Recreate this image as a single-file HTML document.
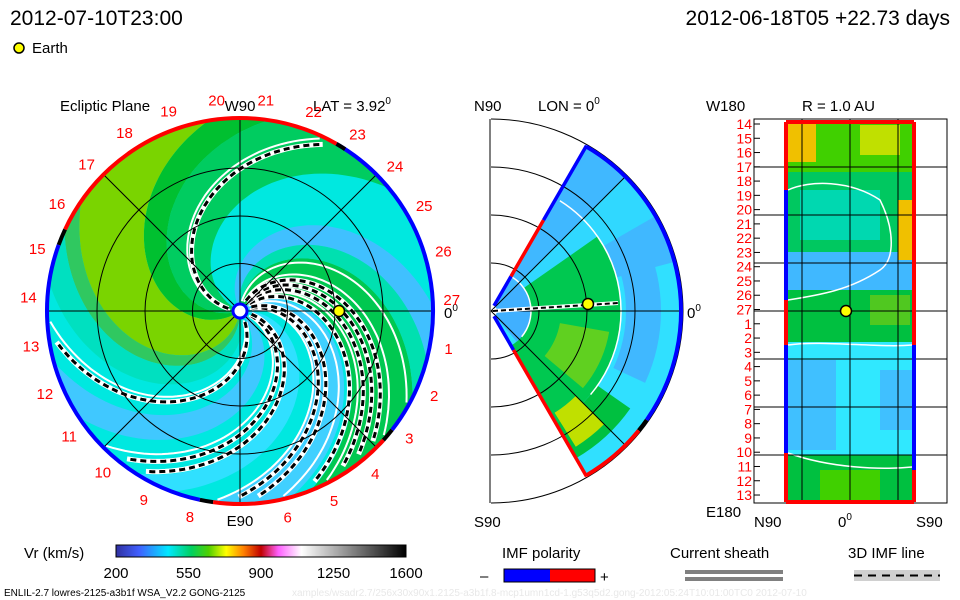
<!DOCTYPE html>
<html><head><meta charset="utf-8"><style>
html,body{margin:0;padding:0;background:#fff;}
svg{display:block;font-family:"Liberation Sans",sans-serif;}
</style></head><body>
<svg id="s" width="960" height="600" viewBox="0 0 960 600">
<defs>
 <clipPath id="cc"><circle cx="240" cy="311" r="192"/></clipPath>
 <linearGradient id="cbar" x1="0" x2="1" y1="0" y2="0">
  <stop offset="0" stop-color="#3030a0"/><stop offset="0.08" stop-color="#4060ff"/>
  <stop offset="0.18" stop-color="#00e8ff"/><stop offset="0.26" stop-color="#00d060"/>
  <stop offset="0.32" stop-color="#50d000"/><stop offset="0.38" stop-color="#ffff00"/>
  <stop offset="0.44" stop-color="#ff8000"/><stop offset="0.5" stop-color="#c00000"/>
  <stop offset="0.56" stop-color="#ff60ff"/><stop offset="0.64" stop-color="#ffffff"/>
  <stop offset="1" stop-color="#000000"/>
 </linearGradient>
</defs>
<text x="10" y="25" font-size="21">2012-07-10T23:00</text>
<text x="950" y="25" font-size="21" text-anchor="end">2012-06-18T05 +22.73 days</text>
<circle cx="19" cy="48" r="5" fill="#ff0" stroke="#000" stroke-width="1.5"/>
<text x="32" y="53" font-size="15">Earth</text>

<text x="60" y="111" font-size="15">Ecliptic Plane</text>
<text x="313" y="111" font-size="15">LAT = 3.92<tspan dy="-7" font-size="10">0</tspan></text>
<text x="240" y="111" font-size="15" text-anchor="middle">W90</text>
<text x="240" y="526" font-size="15" text-anchor="middle">E90</text>
<text x="444" y="318" font-size="15">0<tspan dy="-7" font-size="10">0</tspan></text>

<g id="ecl"></g>
<g id="mer"></g>
<g id="rad"></g>

<text x="474" y="111" font-size="15">N90</text>
<text x="538" y="111" font-size="15">LON = 0<tspan dy="-7" font-size="10">0</tspan></text>
<text x="474" y="527" font-size="15">S90</text>
<text x="687" y="318" font-size="15">0<tspan dy="-7" font-size="10">0</tspan></text>

<text x="706" y="111" font-size="15">W180</text>
<text x="802" y="111" font-size="15">R = 1.0 AU</text>
<text x="706" y="517" font-size="15">E180</text>
<text x="754" y="527" font-size="15">N90</text>
<text x="838" y="527" font-size="15">0<tspan dy="-7" font-size="10">0</tspan></text>
<text x="916" y="527" font-size="15">S90</text>

<!-- legend -->
<text x="24" y="558" font-size="15">Vr (km/s)</text>
<rect x="116" y="545" width="290" height="12" fill="url(#cbar)" stroke="#000" stroke-width="1"/>
<g font-size="15" text-anchor="middle" id="cbt"></g>
<text x="502" y="558" font-size="15">IMF polarity</text>
<text x="480" y="581" font-size="15">–</text>
<rect x="504" y="569" width="46" height="13" fill="#00f"/>
<rect x="550" y="569" width="45" height="13" fill="#f00"/>
<rect x="504" y="569" width="91" height="13" fill="none" stroke="#000"/>
<text x="600" y="582" font-size="15">+</text>
<text x="670" y="558" font-size="15">Current sheath</text>
<rect x="685" y="570" width="98" height="4" fill="#808080"/>
<rect x="685" y="577" width="98" height="4" fill="#808080"/>
<text x="848" y="558" font-size="15">3D IMF line</text>
<rect x="854" y="570" width="86" height="11" fill="#d0d0d0"/>
<line x1="854" y1="575.5" x2="940" y2="575.5" stroke="#000" stroke-width="2" stroke-dasharray="8,6"/>
<text x="4" y="596" font-size="10">ENLIL-2.7 lowres-2125-a3b1f WSA_V2.2 GONG-2125</text>
<text x="292" y="596" font-size="10" fill="#e8e8e8">xamples/wsadr2.7/256x30x90x1.2125-a3b1f.8-mcp1umn1cd-1.g53q5d2.gong-2012:05:24T10:01:00TC0    2012-07-10</text>
</svg>
<script>
// ---- data arrays ----
var cbTicks=["200","550","900","1250","1600"];
var bandOuter=[[40,82],[82,100],[100,146],[146,156],[156,172],[196,214],[238,250],[262,286],[292,334],[334,346],[346,362]];
var bandColor=["#00cc60","#00c030","#7ad400","#30c860","#00e0c0","#40c8ff","#30e0ff","#40d0ff","#00c850","#00e0b0","#40c0ff"];
var dashedOuter=[60,186,229,236,266,272,290,300,306,312];
var whiteOuter=[64,182,224,262,282,296,318,330];
var carLabels=["27","1","2","3","4","5","6","7","8","9","10","11","12","13","14","15","16","17","18","19","20","21","22","23","24","25","26"];
var rimSegs=[[60,155,"#f00"],[155,160,"#000"],[160,258,"#00f"],[258,262,"#000"],[262,318,"#f00"],[318,322,"#000"],[322,420,"#00f"],[57,60,"#000"]];
var radRows=["14","15","16","17","18","19","20","21","22","23","24","25","26","27","1","2","3","4","5","6","7","8","9","10","11","12","13"];

var NS="http://www.w3.org/2000/svg";
function mk(p,t,a){var e=document.createElementNS(NS,t);for(var k in a)e.setAttribute(k,a[k]);p.appendChild(e);return e;}
var CX=240,CY=311,R=192,K=0.6;
function sp(r,po){var ph=(po+K*(R-r))*Math.PI/180;return [CX+r*Math.cos(ph),CY-r*Math.sin(ph)];}
function spPath(po,r0,r1){var d="";for(var r=r0;r<=r1;r+=3){var p=sp(r,po);d+=(d?"L":"M")+p[0].toFixed(1)+" "+p[1].toFixed(1);}return d;}

var tg=document.getElementById("cbt");
cbTicks.forEach(function(t,i){var e=mk(tg,"text",{x:116+i*72.5,y:578});e.textContent=t;

});

var ecl=document.getElementById("ecl");
var cg=mk(ecl,"g",{"clip-path":"url(#cc)"});
var bg=mk(cg,"circle",{cx:CX,cy:CY,r:R,fill:"#00e8e0"});


bandOuter.forEach(function(b,i){
 var d="";for(var r=6;r<=R+40;r+=3){var p=sp(r,b[0]);d+=(d?"L":"M")+p[0].toFixed(1)+" "+p[1].toFixed(1);}
 for(var r=R+40;r>=6;r-=3){var p=sp(r,b[1]);d+="L"+p[0].toFixed(1)+" "+p[1].toFixed(1);}
 var e=mk(cg,"path",{d:d+"Z",fill:bandColor[i]});
 
 
});
whiteOuter.forEach(function(a){var e=mk(cg,"path",{d:spPath(a,10,R),fill:"none",stroke:"#fff","stroke-width":2});
 
 });
[47.5,95,143].forEach(function(r){var e=mk(ecl,"circle",{cx:CX,cy:CY,r:r,fill:"none",stroke:"#000","stroke-width":1});
 
 });
[0,45,90,135].forEach(function(a){var c=Math.cos(a*Math.PI/180)*R,s=Math.sin(a*Math.PI/180)*R;
 var e=mk(ecl,"line",{x1:CX-c,y1:CY+s,x2:CX+c,y2:CY-s,stroke:"#000","stroke-width":1});
 
 });
dashedOuter.forEach(function(a){var d=spPath(a,12,R-4);
 var w=mk(cg,"path",{d:d,fill:"none",stroke:"#fff","stroke-width":5});
 
 
 var b=mk(cg,"path",{d:d,fill:"none",stroke:"#000","stroke-width":3,"stroke-dasharray":"6,4"});
 
 });
rimSegs.forEach(function(s){var a0=s[0]*Math.PI/180,a1=s[1]*Math.PI/180,rr=R+1;
 var d="M"+(CX+rr*Math.cos(a0))+" "+(CY-rr*Math.sin(a0))+"A"+rr+" "+rr+" 0 "+((s[1]-s[0])>180?1:0)+" 0 "+(CX+rr*Math.cos(a1))+" "+(CY-rr*Math.sin(a1));
 var e=mk(ecl,"path",{d:d,fill:"none",stroke:s[2],"stroke-width":4});
 
 });
carLabels.forEach(function(t,i){ if(t==="7")return; var a=(3-13.333*i)*Math.PI/180;
 var e=mk(ecl,"text",{x:CX+212*Math.cos(a),y:CY-212*Math.sin(a)+5,"font-size":15,fill:"#f00","text-anchor":"middle"});e.textContent=t;
 
 });
var sun=mk(ecl,"circle",{cx:CX,cy:CY,r:7,fill:"#fff",stroke:"#00f","stroke-width":3});


var ea=mk(ecl,"circle",{cx:339,cy:311,r:5.5,fill:"#ff0",stroke:"#000","stroke-width":1.5});



// ---- meridional panel ----
var mer=document.getElementById("mer"),MX=491,MY=311;
function pp(r,lat){var a=lat*Math.PI/180;return [MX+r*Math.cos(a),MY-r*Math.sin(a)];}
function sector(r0,r1,l0,l1){var p1=pp(r0,l0),p2=pp(r1,l0),p3=pp(r1,l1),p4=pp(r0,l1);
 return "M"+p1+"L"+p2+"A"+r1+" "+r1+" 0 0 0 "+p3+"L"+p4+"A"+r0+" "+r0+" 0 0 1 "+p1+"Z";}
var mframe=mk(mer,"path",{d:"M490 119 L490 503",stroke:"#000",fill:"none"});


var merRegions=[[6,189,-60,60,"#30e0ff"],[6,189,15,60,"#40b8ff"],[6,189,30,45,"#30d8ff"],[40,130,-60,35,"#00c850"],[130,170,-60,-35,"#00c040"],[70,120,-40,-10,"#60d020"],[120,160,-58,-45,"#c0e000"],[6,40,-50,45,"#40b0ff"],[135,170,-25,25,"#40b8ff"]];
merRegions.forEach(function(m){var e=mk(mer,"path",{d:sector(m[0],m[1],m[2],m[3]),fill:m[4]});
 
 });
[40,130].forEach(function(r){var e=mk(mer,"path",{d:"M"+pp(r,58)+"A"+r+" "+r+" 0 0 1 "+pp(r,-40),fill:"none",stroke:"#fff","stroke-width":1.5});
 
 });
[48,96,144,192].forEach(function(r){var e=mk(mer,"path",{d:"M"+pp(r,90)+"A"+r+" "+r+" 0 0 1 "+pp(r,-90),fill:"none",stroke:"#000"});
 
 });
[45,0,-45].forEach(function(l){var p=pp(189,l);var e=mk(mer,"line",{x1:MX,y1:MY,x2:p[0],y2:p[1],stroke:"#000"});
 
 });
var mrim=[[60,-35,"#00f"],[-35,-39,"#000"],[-39,-60,"#f00"]];
mrim.forEach(function(s){var e=mk(mer,"path",{d:"M"+pp(190,s[0])+"A190 190 0 0 1 "+pp(190,s[1]),fill:"none",stroke:s[2],"stroke-width":4});
 
 });
var medges=[[60,6,40,"#00f"],[60,40,105,"#f00"],[60,105,191,"#00f"],[-60,6,45,"#00f"],[-60,45,191,"#f00"]];
medges.forEach(function(s){var e=mk(mer,"path",{d:"M"+pp(s[1],s[0])+"L"+pp(s[2],s[0]),fill:"none",stroke:s[3],"stroke-width":3.5});
 
 });
var mdl=mk(mer,"line",{x1:493,y1:311,x2:618,y2:303,stroke:"#fff","stroke-width":4});


var mdl2=mk(mer,"line",{x1:493,y1:311,x2:618,y2:303,stroke:"#000","stroke-width":2,"stroke-dasharray":"5,3"});


var me=mk(mer,"circle",{cx:588,cy:304,r:5.5,fill:"#ff0",stroke:"#000","stroke-width":1.5});



// ---- radial map panel ----
var rad=document.getElementById("rad");
var fr=mk(rad,"rect",{x:754,y:119,width:193,height:384,fill:"#fff",stroke:"#000"});


var radBlocks=[[786,122,128,380,"#30e8ff"],[786,122,128,50,"#40d000"],[786,122,30,40,"#f0c000"],[860,125,40,30,"#c0e000"],[786,172,128,80,"#00c860"],[800,190,80,50,"#00d8b0"],[786,252,128,45,"#40b8ff"],[786,290,128,52,"#00c040"],[870,295,40,30,"#50c820"],[786,345,128,108,"#30e8ff"],[786,360,50,90,"#40c0ff"],[880,370,34,60,"#40c0ff"],[786,455,128,47,"#00c040"],[898,200,16,60,"#f0c000"],[820,470,60,30,"#40d000"]];
radBlocks.forEach(function(b){var e=mk(rad,"rect",{x:b[0],y:b[1],width:b[2],height:b[3],fill:b[4]});
 
 });
var wl=[["M788 190 C810 180 850 180 880 200 C895 230 895 260 880 270 C850 290 820 295 788 300"],["M788 345 C820 340 880 348 912 345"],["M788 453 C830 468 880 470 912 467"]];
wl.forEach(function(d){var e=mk(rad,"path",{d:d[0],fill:"none",stroke:"#fff","stroke-width":1.5});
 
 });
for(var i=0;i<7;i++){var e=mk(rad,"line",{x1:754,x2:947,y1:167+48*i,y2:167+48*i,stroke:"#000"});
 
 }
[802,850,898].forEach(function(x){var e=mk(rad,"line",{x1:x,x2:x,y1:119,y2:503,stroke:"#000"});
 
 });
var rb=[[786,122,786,190,"#f00"],[786,190,786,300,"#00f"],[786,300,786,345,"#f00"],[786,345,786,453,"#00f"],[786,453,786,502,"#f00"],[914,122,914,345,"#f00"],[914,345,914,470,"#00f"],[914,470,914,502,"#f00"],[786,122,914,122,"#f00"],[786,502,914,502,"#f00"]];
rb.forEach(function(b){var e=mk(rad,"line",{x1:b[0],y1:b[1],x2:b[2],y2:b[3],stroke:b[4],"stroke-width":4});
 
 });
radRows.forEach(function(t,i){var y=124+i*14.27;
 var e=mk(rad,"text",{x:752,y:y+5,"font-size":14,fill:"#f00","text-anchor":"end"});e.textContent=t;
 
 
 var k=mk(rad,"line",{x1:754,x2:760,y1:y,y2:y,stroke:"#000"});
 
 });
var re=mk(rad,"circle",{cx:846,cy:311,r:5.5,fill:"#ff0",stroke:"#000","stroke-width":1.5});


</script>
</body></html>
